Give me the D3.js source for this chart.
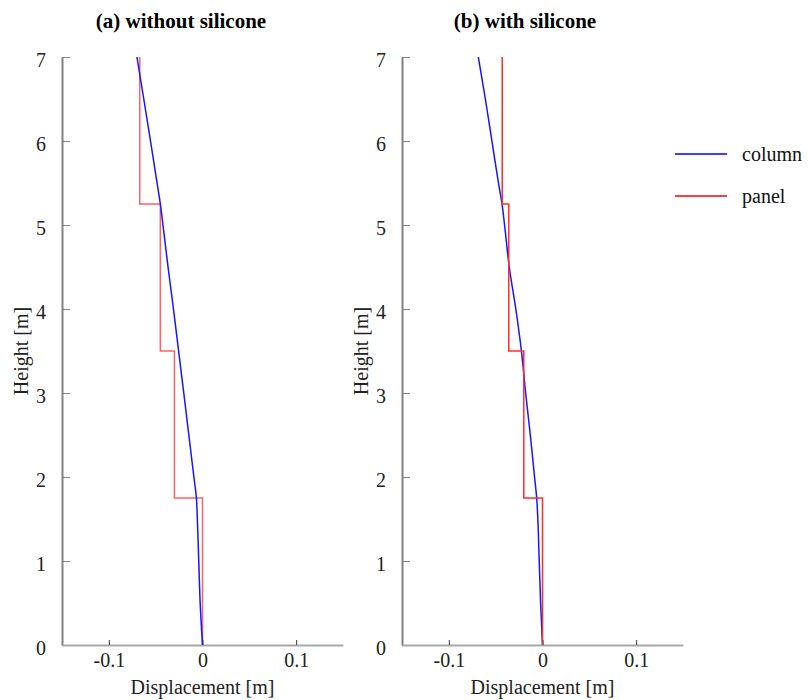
<!DOCTYPE html>
<html>
<head>
<meta charset="utf-8">
<script src="https://cdn.jsdelivr.net/npm/d3@7"></script>
<style>
  html, body { margin: 0; padding: 0; background: #fff; }
  svg { display: block; font-family: "Liberation Serif", "Times New Roman", serif; }
</style>
</head>
<body>
<svg id="chart" width="808" height="700"></svg>
<script>
// ---- data ----
const columnHeights = [0, 0.5, 1, 1.5, 1.75, 2, 2.5, 3, 3.5, 4, 4.5, 5, 5.25, 5.5, 6, 6.5, 7];
const columnWithout = [0, -0.0025, -0.004, -0.0055, -0.0065, -0.0092, -0.0146, -0.020, -0.0255, -0.031, -0.0368, -0.0422, -0.045, -0.0485, -0.0555, -0.0627, -0.070];
const columnWith    = [0, -0.002, -0.0035, -0.005, -0.0062, -0.0085, -0.013, -0.018, -0.0225, -0.0285, -0.0355, -0.0405, -0.0432, -0.047, -0.054, -0.061, -0.0685];
const storyHeights = [0, 1.75, 3.5, 5.25, 7];
const panelWithout = [0, -0.030, -0.045, -0.067];
const panelWith    = [0, -0.020, -0.036, -0.043];
const xTicks = [-0.1, 0, 0.1];
const xTickLabels = ["-0.1", "0", "0.1"];
const yTicks = [0, 1, 2, 3, 4, 5, 6, 7];
const titles = ["(a) without silicone", "(b) with silicone"];
const seriesNames = ["column", "panel"];

const svg = d3.select("#chart");
const FONT = 20;
const SERIF = "Liberation Serif, Times New Roman, serif";

const panels = [
  { title: titles[0], col: columnWithout, pan: panelWithout, left: 62, titleX: 181, panelColor: "#ff6262", panelOnTop: false },
  { title: titles[1], col: columnWith, pan: panelWith, left: 402, titleX: 525, panelColor: "#ff2e2e", panelOnTop: true }
];
const plotTop = 57, plotBottom = 645, plotWidth = 281;

const y = d3.scaleLinear().domain([0, 7]).range([plotBottom, plotTop]);

panels.forEach(p => {
  const x = d3.scaleLinear().domain([-0.15, 0.15]).range([p.left, p.left + plotWidth]);
  const g = svg.append("g");

  // title
  svg.append("text").attr("x", p.titleX).attr("y", 28).attr("text-anchor", "middle")
    .attr("font-size", 21).attr("font-weight", "bold").attr("fill", "#000").text(p.title);

  // y axis
  const ya = g.append("g").attr("transform", `translate(${p.left},0)`)
    .call(d3.axisLeft(y).tickValues(yTicks).tickFormat(d3.format("d"))
      .tickSizeInner(-8).tickSizeOuter(0).tickPadding(16));
  ya.select(".domain").attr("stroke", "#808080").attr("stroke-width", 2);
  ya.selectAll(".tick line").attr("stroke", "#808080").attr("stroke-width", 1);
  ya.selectAll(".tick text").attr("font-size", FONT).attr("fill", "#222")
    .attr("font-family", SERIF).attr("dy", "0.45em");

  // x axis
  const xa = g.append("g").attr("transform", `translate(0,${plotBottom})`)
    .call(d3.axisBottom(x).tickValues(xTicks).tickFormat((d, i) => xTickLabels[i])
      .tickSizeInner(-5).tickSizeOuter(0).tickPadding(8));
  xa.select(".domain").attr("stroke", "#a8a8a8").attr("stroke-width", 2);
  xa.selectAll(".tick line").attr("stroke", "#333").attr("stroke-width", 1);
  xa.selectAll(".tick text").attr("font-size", FONT).attr("fill", "#222")
    .attr("font-family", SERIF);

  // axis labels
  svg.append("text").attr("x", p.left + plotWidth / 2).attr("y", 694).attr("text-anchor", "middle")
    .attr("font-size", FONT).attr("fill", "#222").text("Displacement [m]");
  svg.append("text").attr("transform", `translate(${p.left - 34},${(plotTop + plotBottom) / 2}) rotate(-90)`)
    .attr("text-anchor", "middle").attr("font-size", FONT).attr("fill", "#222").text("Height [m]");

  // lines
  const line = d3.line().x(d => x(d[0])).y(d => y(d[1]));
  const colPts = columnHeights.map((h, i) => [p.col[i], h]);
  const panPts = [];
  p.pan.forEach((v, i) => { panPts.push([v, storyHeights[i]]); panPts.push([v, storyHeights[i + 1]]); });

  const drawPanel = () => g.append("path").datum(panPts).attr("d", line)
    .attr("fill", "none").attr("stroke", p.panelColor).attr("stroke-width", 1.5);
  const drawCol = () => g.append("path").datum(colPts)
    .attr("d", d3.line().x(d => x(d[0])).y(d => y(d[1])).curve(d3.curveMonotoneY))
    .attr("fill", "none").attr("stroke", "#1515ff").attr("stroke-width", 1.5);
  if (p.panelOnTop) { drawCol(); drawPanel(); } else { drawPanel(); drawCol(); }
});

// legend
const legendColors = ["#0000ff", "#ff0000"];
const legendY = [154, 196];
seriesNames.forEach((name, i) => {
  svg.append("line").attr("x1", 675).attr("x2", 727).attr("y1", legendY[i]).attr("y2", legendY[i])
    .attr("stroke", legendColors[i]).attr("stroke-width", 1.5);
  svg.append("text").attr("x", 742).attr("y", legendY[i] + 7).attr("font-size", FONT)
    .attr("fill", "#111").text(name);
});
</script>
</body>
</html>
